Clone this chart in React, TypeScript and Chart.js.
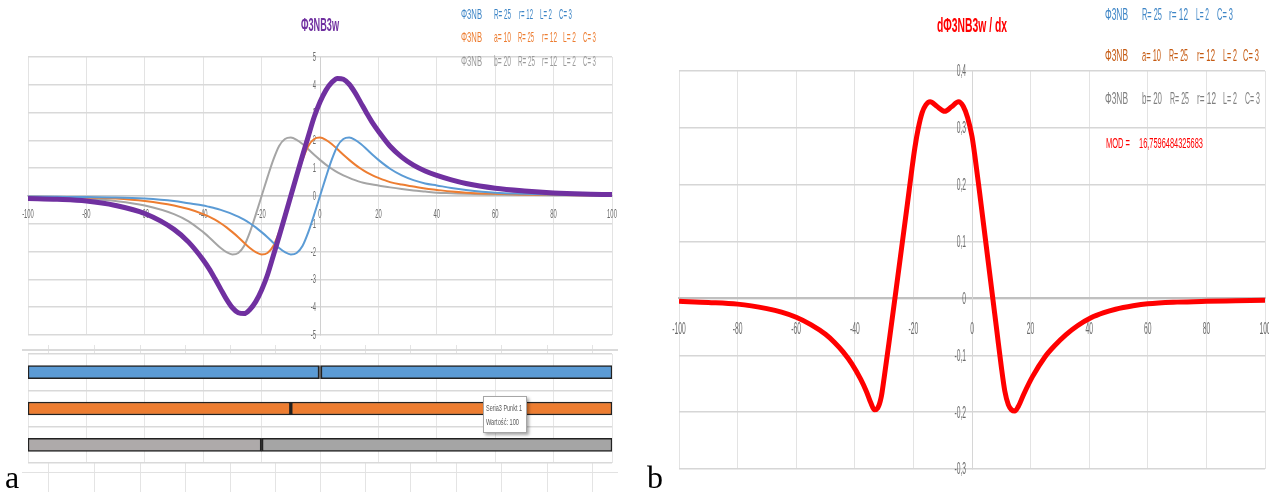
import React, { useEffect, useRef } from 'react';
import { Chart, registerables } from 'chart.js';
Chart.register(...registerables);

// ---------- DATA: panel a (Φ3NB curves) ----------
const xA = [-100,-90,-80,-70,-60,-50,-45,-40,-38,-36,-34,-32,-30,-28,-26,-24,-22,-20,-18,-16,-14,-12,-10,-8,-6,-4,-2,0,2,4,6,8,10,12,14,16,18,20,24,28,32,36,40,45,50,60,70,80,90,100];
const phiNB = [-0.02,-0.03,-0.04,-0.05,-0.09,-0.18,-0.26,-0.34,-0.39,-0.44,-0.50,-0.57,-0.65,-0.74,-0.85,-0.98,-1.13,-1.30,-1.48,-1.68,-1.87,-2.02,-2.10,-2.05,-1.80,-1.30,-0.67,0,0.67,1.30,1.80,2.05,2.10,2.02,1.87,1.68,1.48,1.30,0.98,0.74,0.57,0.45,0.38,0.29,0.22,0.12,0.08,0.05,0.04,0.03];
const phiNBa = [-0.03,-0.04,-0.05,-0.09,-0.18,-0.34,-0.47,-0.65,-0.74,-0.85,-0.98,-1.13,-1.30,-1.48,-1.68,-1.87,-2.02,-2.10,-2.05,-1.80,-1.30,-0.67,0,0.67,1.30,1.80,2.05,2.10,2.02,1.87,1.68,1.48,1.30,1.13,0.98,0.85,0.74,0.65,0.50,0.41,0.34,0.27,0.22,0.16,0.12,0.08,0.05,0.04,0.03,0.025];
const phiNBb = [-0.04,-0.05,-0.09,-0.18,-0.34,-0.65,-0.91,-1.30,-1.48,-1.68,-1.87,-2.02,-2.10,-2.05,-1.80,-1.30,-0.67,0,0.67,1.30,1.80,2.05,2.10,2.02,1.87,1.68,1.48,1.30,1.13,0.98,0.85,0.74,0.65,0.57,0.50,0.45,0.41,0.38,0.31,0.25,0.20,0.16,0.12,0.10,0.08,0.05,0.04,0.03,0.025,0.02];
const phi3NB3w = [-0.09,-0.12,-0.18,-0.34,-0.63,-1.20,-1.66,-2.30,-2.61,-2.97,-3.35,-3.72,-4.02,-4.20,-4.23,-4.08,-3.80,-3.38,-2.84,-2.15,-1.45,-0.73,0,0.73,1.45,2.15,2.84,3.38,3.80,4.08,4.23,4.20,4.02,3.72,3.35,2.98,2.63,2.33,1.79,1.40,1.11,0.90,0.74,0.58,0.45,0.28,0.18,0.11,0.07,0.05];
const xRangeA = [-100, 100];
const yRangeA = [-5, 5];
const xStep = 20;
const yStepA = 1;

// ---------- DATA: sliders under panel a ----------
const sliderLabels = ['Φ3NB', 'Φ3NB a=10', 'Φ3NB b=20'];
const sliderValues = [0, -10, -20];
const sliderMin = -100;
const sliderMax = 100;

// ---------- DATA: panel b (dΦ3NB3w/dx) ----------
const xB = [-100,-90,-80,-70,-65,-60,-55,-50,-47,-44,-41,-38,-36,-34.5,-33.3,-32.2,-31,-30,-28,-26,-24,-22,-20.5,-19.5,-18.3,-17,-15.8,-14.3,-12,-9.3,-7,-4.6,-3,-1.5,0,1,2.5,4,5.5,7,8.5,10,11.2,12.4,13.5,14.6,15.8,17.7,20.6,25,28,32,36,40.6,45,49,55,60,70,80,90,100];
const dPhi = [-0.005,-0.007,-0.01,-0.018,-0.024,-0.033,-0.046,-0.063,-0.077,-0.094,-0.115,-0.142,-0.164,-0.184,-0.196,-0.193,-0.174,-0.14,-0.065,0.012,0.09,0.168,0.228,0.265,0.3,0.327,0.34,0.346,0.338,0.329,0.337,0.346,0.338,0.318,0.285,0.25,0.19,0.128,0.066,0.004,-0.058,-0.12,-0.163,-0.187,-0.196,-0.198,-0.19,-0.168,-0.138,-0.102,-0.084,-0.064,-0.048,-0.034,-0.025,-0.019,-0.013,-0.0095,-0.0065,-0.005,-0.004,-0.003];
const yRangeB = [-0.3, 0.4];
const yStepB = 0.1;

// ---------- styles ----------
const BLUE = '#5b9bd5';
const ORANGE = '#ed7d31';
const GRAY = '#a5a5a5';
const PURPLE = '#7030a0';
const RED = '#ff0000';
const SANS = '"Liberation Sans", Arial, sans-serif';

const pts = (xs: number[], ys: number[]) => xs.map((x, i) => ({ x, y: ys[i] }));

function axisLabelPlugin(cfg: { size: number; sx: number; color: string; xOff: number; yOff: number; yDy: number; fmtX: (v: number) => string; fmtY: (v: number) => string }) {
  return {
    id: 'axisLabels',
    beforeDatasetsDraw(chart: any) {
      const ctx = chart.ctx;
      const xs = chart.scales.x;
      const ys = chart.scales.y;
      const ax = xs.getPixelForValue(0);
      const ay = ys.getPixelForValue(0);
      ctx.save();
      ctx.fillStyle = cfg.color;
      ctx.font = `${cfg.size}px ${SANS}`;
      ctx.textBaseline = 'middle';
      for (const t of xs.ticks) {
        const px = xs.getPixelForValue(t.value);
        ctx.save();
        ctx.translate(px, ay + cfg.xOff);
        ctx.scale(cfg.sx, 1);
        ctx.textAlign = 'center';
        ctx.fillText(cfg.fmtX(t.value), 0, 0);
        ctx.restore();
      }
      for (const t of ys.ticks) {
        const py = ys.getPixelForValue(t.value);
        ctx.save();
        ctx.translate(ax - cfg.yOff, py + cfg.yDy);
        ctx.scale(cfg.sx, 1);
        ctx.textAlign = 'right';
        ctx.fillText(cfg.fmtY(t.value), 0, 0);
        ctx.restore();
      }
      ctx.restore();
    },
  };
}

let measureCtx: CanvasRenderingContext2D | null = null;
function measure(text: string, font: string) {
  if (!measureCtx) measureCtx = document.createElement('canvas').getContext('2d');
  measureCtx!.font = font;
  return measureCtx!.measureText(text).width;
}

type Tok = { t: string; x0: number; x1: number; yc: number; h: number; color: string; bold?: boolean };
function Txt({ t, x0, x1, yc, h, color, bold }: Tok) {
  const fs = h / 0.716;
  const font = `${bold ? 'bold ' : ''}${fs}px ${SANS}`;
  const w = measure(t, font) || 1;
  const sx = (x1 - x0) / w;
  return (
    <span style={{ position: 'absolute', left: x0, top: yc - 0.4885 * fs, fontFamily: SANS, fontSize: fs, fontWeight: bold ? 700 : 400, lineHeight: `${fs}px`, color, whiteSpace: 'pre', transform: `scaleX(${sx})`, transformOrigin: '0 0' }}>{t}</span>
  );
}

const LBLUE = '#3d85c6';
const LORANGE_A = '#ed7d31';
const LORANGE_B = '#c55a11';
const LGRAY_A = '#9a9a9a';
const LGRAY_B = '#7f7f7f';

const texts: Tok[] = [
  { t: 'Φ3NB3w', x0: 301, x1: 339, yc: 25, h: 13, color: PURPLE, bold: true },
  { t: 'Φ3NB', x0: 461, x1: 482, yc: 15, h: 10, color: LBLUE },
  { t: 'R= 25', x0: 494, x1: 511, yc: 15, h: 10, color: LBLUE },
  { t: 'r= 12', x0: 519, x1: 533, yc: 15, h: 10, color: LBLUE },
  { t: 'L= 2', x0: 540, x1: 552, yc: 15, h: 10, color: LBLUE },
  { t: 'C= 3', x0: 559, x1: 572, yc: 15, h: 10, color: LBLUE },
  { t: 'Φ3NB', x0: 461, x1: 482, yc: 38, h: 10, color: LORANGE_A },
  { t: 'a= 10', x0: 494, x1: 511, yc: 38, h: 10, color: LORANGE_A },
  { t: 'R= 25', x0: 518, x1: 534, yc: 38, h: 10, color: LORANGE_A },
  { t: 'r= 12', x0: 542, x1: 557, yc: 38, h: 10, color: LORANGE_A },
  { t: 'L= 2', x0: 563, x1: 576, yc: 38, h: 10, color: LORANGE_A },
  { t: 'C= 3', x0: 583, x1: 596, yc: 38, h: 10, color: LORANGE_A },
  { t: 'Φ3NB', x0: 461, x1: 482, yc: 62, h: 10, color: LGRAY_A },
  { t: 'b= 20', x0: 494, x1: 511, yc: 62, h: 10, color: LGRAY_A },
  { t: 'R= 25', x0: 518, x1: 535, yc: 62, h: 10, color: LGRAY_A },
  { t: 'r= 12', x0: 542, x1: 557, yc: 62, h: 10, color: LGRAY_A },
  { t: 'L= 2', x0: 563, x1: 576, yc: 62, h: 10, color: LGRAY_A },
  { t: 'C= 3', x0: 583, x1: 596, yc: 62, h: 10, color: LGRAY_A },
  { t: 'dΦ3NB3w / dx', x0: 937, x1: 1007, yc: 26, h: 14, color: RED, bold: true },
  { t: 'Φ3NB', x0: 1105, x1: 1128, yc: 15, h: 12, color: LBLUE },
  { t: 'R= 25', x0: 1142, x1: 1162, yc: 15, h: 12, color: LBLUE },
  { t: 'r= 12', x0: 1169, x1: 1188, yc: 15, h: 12, color: LBLUE },
  { t: 'L= 2', x0: 1196, x1: 1209, yc: 15, h: 12, color: LBLUE },
  { t: 'C= 3', x0: 1217, x1: 1233, yc: 15, h: 12, color: LBLUE },
  { t: 'Φ3NB', x0: 1105, x1: 1128, yc: 56, h: 12, color: LORANGE_B },
  { t: 'a= 10', x0: 1142, x1: 1161, yc: 56, h: 12, color: LORANGE_B },
  { t: 'R= 25', x0: 1169, x1: 1188, yc: 56, h: 12, color: LORANGE_B },
  { t: 'r= 12', x0: 1197, x1: 1215, yc: 56, h: 12, color: LORANGE_B },
  { t: 'L= 2', x0: 1223, x1: 1237, yc: 56, h: 12, color: LORANGE_B },
  { t: 'C= 3', x0: 1243, x1: 1259, yc: 56, h: 12, color: LORANGE_B },
  { t: 'Φ3NB', x0: 1105, x1: 1128, yc: 99, h: 12, color: LGRAY_B },
  { t: 'b= 20', x0: 1142, x1: 1162, yc: 99, h: 12, color: LGRAY_B },
  { t: 'R= 25', x0: 1170, x1: 1189, yc: 99, h: 12, color: LGRAY_B },
  { t: 'r= 12', x0: 1197, x1: 1216, yc: 99, h: 12, color: LGRAY_B },
  { t: 'L= 2', x0: 1223, x1: 1237, yc: 99, h: 12, color: LGRAY_B },
  { t: 'C= 3', x0: 1245, x1: 1260, yc: 99, h: 12, color: LGRAY_B },
  { t: 'MOD =', x0: 1106, x1: 1130, yc: 143, h: 11, color: RED },
  { t: '16,7596484325683', x0: 1139, x1: 1203, yc: 143, h: 11, color: RED },
  { t: 'Seria3 Punkt 1', x0: 486, x1: 522, yc: 408, h: 6.5, color: '#595959' },
  { t: 'Wartość: 100', x0: 486, x1: 519, yc: 422, h: 6.5, color: '#595959' },
];

const sheetCols = [48, 94, 140, 185, 230, 275, 320, 365, 410, 456, 501, 547, 592];

export default function App() {
  const refA = useRef<HTMLCanvasElement>(null);
  const refS = useRef<HTMLCanvasElement>(null);
  const refB = useRef<HTMLCanvasElement>(null);

  useEffect(() => {
    const fmtInt = (v: number) => String(Math.round(v));
    const fmtDec = (v: number) => (Math.abs(v) < 1e-9 ? '0' : v.toFixed(1).replace('.', ','));

    const chartA = new Chart(refA.current!, {
      type: 'line',
      data: {
        datasets: [
          { data: pts(xA, phi3NB3w), borderColor: PURPLE, borderWidth: 5, order: 0 },
          { data: pts(xA, phiNB), borderColor: BLUE, borderWidth: 2, order: 1 },
          { data: pts(xA, phiNBa), borderColor: ORANGE, borderWidth: 2, order: 2 },
          { data: pts(xA, phiNBb), borderColor: GRAY, borderWidth: 2, order: 3 },
        ],
      },
      options: {
        responsive: false,
        animation: false,
        layout: { padding: { left: 28, right: 28, top: 57, bottom: 10 } },
        elements: { point: { radius: 0 }, line: { cubicInterpolationMode: 'monotone', fill: false } },
        plugins: { legend: { display: false }, tooltip: { enabled: false } },
        scales: {
          x: { type: 'linear', min: xRangeA[0], max: xRangeA[1], position: { y: 0 } as any, ticks: { display: false, stepSize: xStep }, grid: { color: '#e3e3e3', lineWidth: 1, drawTicks: false }, border: { color: '#c8c8c8', width: 1.5 } },
          y: { type: 'linear', min: yRangeA[0], max: yRangeA[1], position: { x: 0 } as any, ticks: { display: false, stepSize: yStepA }, grid: { color: '#d9d9d9', lineWidth: 1.5, drawTicks: false }, border: { color: '#d0d0d0', width: 1 } },
        },
      } as any,
      plugins: [axisLabelPlugin({ size: 13, sx: 0.45, color: '#6b6b6b', xOff: 18.5, yOff: 4, yDy: 0.5, fmtX: fmtInt, fmtY: fmtInt })],
    });

    const segStyle = { borderColor: '#222222', borderSkipped: false, grouped: false, barThickness: 13 };
    const chartS = new Chart(refS.current!, {
      type: 'bar',
      data: {
        labels: sliderLabels,
        datasets: [
          { ...segStyle, data: sliderValues.map(v => [sliderMin, v]), backgroundColor: [BLUE, ORANGE, '#aeaaaa'], borderWidth: { left: 1.5, right: 2, top: 1.5, bottom: 1.5 } },
          { ...segStyle, data: sliderValues.map(v => [v, sliderMax]), backgroundColor: [BLUE, ORANGE, GRAY], borderWidth: { left: 2, right: 1.5, top: 1.5, bottom: 1.5 } },
        ],
      } as any,
      options: {
        indexAxis: 'y',
        responsive: false,
        animation: false,
        layout: { padding: { left: 28, right: 28, top: 9, bottom: 29 } },
        plugins: { legend: { display: false }, tooltip: { enabled: false } },
        scales: {
          x: { type: 'linear', min: sliderMin, max: sliderMax, ticks: { display: false, stepSize: xStep }, grid: { color: '#e6e6e6', drawTicks: false }, border: { display: false } },
          y: { type: 'category', ticks: { display: false }, grid: { color: '#d9d9d9', lineWidth: 1.5, drawTicks: false, offset: true }, border: { display: false } },
        },
      } as any,
    });

    const chartB = new Chart(refB.current!, {
      type: 'line',
      data: {
        datasets: [{ data: pts(xB, dPhi), borderColor: RED, borderWidth: 5 }],
      },
      options: {
        responsive: false,
        animation: false,
        layout: { padding: { left: 39, right: 15, top: 71, bottom: 23 } },
        elements: { point: { radius: 0 }, line: { cubicInterpolationMode: 'monotone', fill: false } },
        plugins: { legend: { display: false }, tooltip: { enabled: false } },
        scales: {
          x: { type: 'linear', min: xRangeA[0], max: xRangeA[1], position: { y: 0 } as any, ticks: { display: false, stepSize: xStep }, grid: { color: '#e3e3e3', lineWidth: 1, drawTicks: false }, border: { color: '#c0c0c0', width: 2 } },
          y: { type: 'linear', min: yRangeB[0], max: yRangeB[1], position: { x: 0 } as any, ticks: { display: false, stepSize: yStepB }, grid: { color: '#d6d6d6', lineWidth: 1.5, drawTicks: false }, border: { color: '#d6d6d6', width: 1 } },
        },
      } as any,
      plugins: [axisLabelPlugin({ size: 16, sx: 0.42, color: '#6b6b6b', xOff: 31, yOff: 6, yDy: 1, fmtX: fmtInt, fmtY: fmtDec })],
    });

    return () => {
      chartA.destroy();
      chartS.destroy();
      chartB.destroy();
    };
  }, []);

  return (
    <div style={{ position: 'fixed', left: 0, top: 0, width: 1269, height: 492, overflow: 'hidden', background: '#ffffff' }}>
      {sheetCols.map(x => (
        <div key={'t' + x} style={{ position: 'absolute', left: x, top: 345, width: 1, height: 9, background: '#e4e4e4' }} />
      ))}
      {sheetCols.map(x => (
        <div key={'b' + x} style={{ position: 'absolute', left: x, top: 463, width: 1, height: 29, background: '#e4e4e4' }} />
      ))}
      <div style={{ position: 'absolute', left: 22, top: 349, width: 596, height: 2, background: '#dadada' }} />
      <div style={{ position: 'absolute', left: 22, top: 472, width: 596, height: 1, background: '#e2e2e2' }} />
      <canvas ref={refA} width={640} height={345} style={{ position: 'absolute', left: 0, top: 0 }} />
      <canvas ref={refS} width={640} height={147} style={{ position: 'absolute', left: 0, top: 345 }} />
      <canvas ref={refB} width={640} height={492} style={{ position: 'absolute', left: 640, top: 0 }} />
      <div style={{ position: 'absolute', left: 483, top: 396, width: 42, height: 35, background: '#ffffff', border: '1px solid #a6a6a6', boxShadow: '2px 2px 3px rgba(0,0,0,0.35)' }} />
      {texts.map((tk, i) => (
        <Txt key={i} {...tk} />
      ))}
      <span style={{ position: 'absolute', left: 5, top: 461, fontFamily: '"Liberation Serif", "Times New Roman", serif', fontSize: 32, lineHeight: '32px', color: '#000' }}>a</span>
      <span style={{ position: 'absolute', left: 647, top: 461, fontFamily: '"Liberation Serif", "Times New Roman", serif', fontSize: 32, lineHeight: '32px', color: '#000' }}>b</span>
    </div>
  );
}
